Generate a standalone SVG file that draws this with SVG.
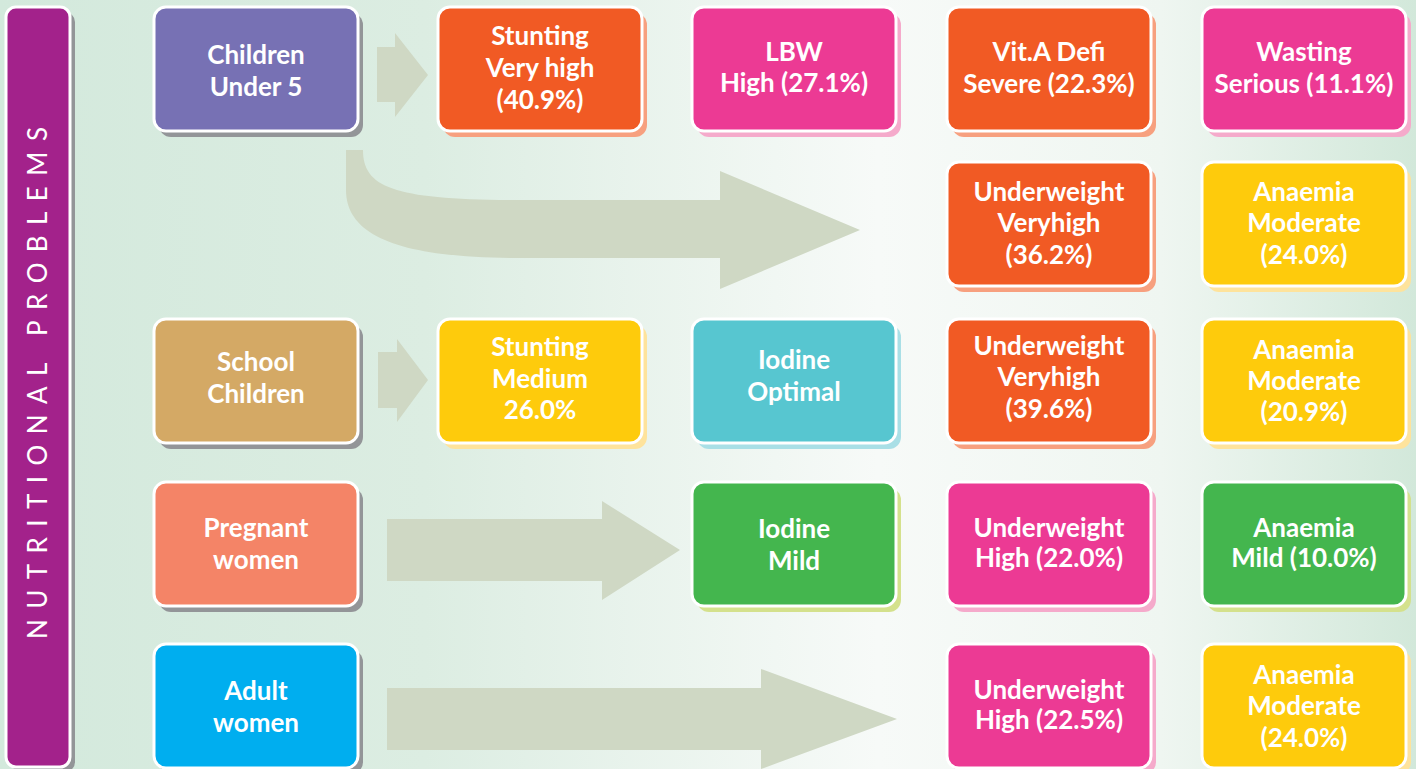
<svg xmlns="http://www.w3.org/2000/svg" width="1416" height="769" viewBox="0 0 1416 769">
<defs>
<linearGradient id="bg" x1="0" y1="0" x2="1" y2="0">
<stop offset="0" stop-color="#d3e9dc"/>
<stop offset="0.3" stop-color="#dcede2"/>
<stop offset="0.62" stop-color="#f7faf8"/>
<stop offset="0.82" stop-color="#eff6f1"/>
<stop offset="1" stop-color="#d2e8da"/>
</linearGradient>
<style>
.box{stroke:#ffffff;stroke-width:3}
.t{font-family:Lato,"Open Sans","DejaVu Sans",sans-serif;font-weight:700;font-size:26px;fill:#ffffff;text-anchor:middle}
.arr{fill:#cfd8c4}
.sg{fill:#939598}
</style>
</defs>
<rect x="0" y="0" width="1416" height="769" fill="url(#bg)"/>

<g id="title-bar">
<rect class="sg" x="11" y="12" width="64" height="760" rx="10"/>
<rect class="box" x="6" y="7" width="64" height="760" rx="10" fill="#a3228b"/>
<text transform="translate(47,383) rotate(-90)" x="0" y="0" text-anchor="middle" textLength="512" lengthAdjust="spacing" style="font-family:Lato,'Open Sans',sans-serif;font-size:26px;fill:#ffffff">NUTRITIONAL PROBLEMS</text>
</g>

<g id="connectors">
<path class="arr" d="M377,47 L395,47 L395,33 L428,75 L395,117 L395,102 L377,102 Z"/>
<path class="arr" d="M346,150 L346,190 C346,240 410,258 520,258 L720,258 L720,289 L860,230 L720,171 L720,200 L520,200 C395,200 363,188 363,150 Z"/>
<path class="arr" d="M378,352 L397,352 L397,339 L428,380 L397,422 L397,408 L378,408 Z"/>
<path class="arr" d="M387,519 L602,519 L602,501 L680,550 L602,600 L602,581 L387,581 Z"/>
<path class="arr" d="M387,688 L761,688 L761,669 L897,719 L761,769 L761,750 L387,750 Z"/>
</g>

<g id="children-under-5">
<rect class="sg" x="159" y="13" width="204" height="124" rx="12"/>
<rect class="box" x="154" y="7" width="204" height="124" rx="12" fill="#7771b4"/>
<text class="t" x="256" y="64">Children</text>
<text class="t" x="256" y="96">Under 5</text>
</g>

<g id="stunting-very-high">
<rect x="443" y="13" width="204" height="124" rx="12" fill="#f7a07f"/>
<rect class="box" x="438" y="7" width="204" height="124" rx="12" fill="#f15a24"/>
<text class="t" x="540" y="45">Stunting</text>
<text class="t" x="540" y="77">Very high</text>
<text class="t" x="540" y="109">(40.9%)</text>
</g>

<g id="lbw-high">
<rect x="697" y="13" width="204" height="124" rx="12" fill="#f5aacb"/>
<rect class="box" x="692" y="7" width="204" height="124" rx="12" fill="#ec3a94"/>
<text class="t" x="794" y="61">LBW</text>
<text class="t" x="794" y="92">High (27.1%)</text>
</g>

<g id="vita-defi-severe">
<rect x="952" y="13" width="204" height="124" rx="12" fill="#f7a07f"/>
<rect class="box" x="947" y="7" width="204" height="124" rx="12" fill="#f15a24"/>
<text class="t" x="1049" y="61">Vit.A Defi</text>
<text class="t" x="1049" y="93">Severe (22.3%)</text>
</g>

<g id="wasting-serious">
<rect x="1207" y="13" width="204" height="124" rx="12" fill="#f5aacb"/>
<rect class="box" x="1202" y="7" width="204" height="124" rx="12" fill="#ec3a94"/>
<text class="t" x="1304" y="61">Wasting</text>
<text class="t" x="1304" y="93">Serious (11.1%)</text>
</g>

<g id="underweight-veryhigh-u5">
<rect x="952" y="168" width="204" height="124" rx="12" fill="#f7a07f"/>
<rect class="box" x="947" y="162" width="204" height="124" rx="12" fill="#f15a24"/>
<text class="t" x="1049" y="201">Underweight</text>
<text class="t" x="1049" y="232">Veryhigh</text>
<text class="t" x="1049" y="264">(36.2%)</text>
</g>

<g id="anaemia-moderate-u5">
<rect x="1207" y="168" width="204" height="124" rx="12" fill="#fee39c"/>
<rect class="box" x="1202" y="162" width="204" height="124" rx="12" fill="#fecb0c"/>
<text class="t" x="1304" y="201">Anaemia</text>
<text class="t" x="1304" y="232">Moderate</text>
<text class="t" x="1304" y="264">(24.0%)</text>
</g>

<g id="school-children">
<rect class="sg" x="159" y="325" width="204" height="124" rx="12"/>
<rect class="box" x="154" y="319" width="204" height="124" rx="12" fill="#d4a965"/>
<text class="t" x="256" y="371">School</text>
<text class="t" x="256" y="403">Children</text>
</g>

<g id="stunting-medium">
<rect x="443" y="325" width="204" height="124" rx="12" fill="#fee39c"/>
<rect class="box" x="438" y="319" width="204" height="124" rx="12" fill="#fecb0c"/>
<text class="t" x="540" y="356">Stunting</text>
<text class="t" x="540" y="388">Medium</text>
<text class="t" x="540" y="419">26.0%</text>
</g>

<g id="iodine-optimal">
<rect x="697" y="325" width="204" height="124" rx="12" fill="#a9dfe6"/>
<rect class="box" x="692" y="319" width="204" height="124" rx="12" fill="#57c6d0"/>
<text class="t" x="794" y="369">Iodine</text>
<text class="t" x="794" y="401">Optimal</text>
</g>

<g id="underweight-veryhigh-school">
<rect x="952" y="325" width="204" height="124" rx="12" fill="#f7a07f"/>
<rect class="box" x="947" y="319" width="204" height="124" rx="12" fill="#f15a24"/>
<text class="t" x="1049" y="355">Underweight</text>
<text class="t" x="1049" y="386">Veryhigh</text>
<text class="t" x="1049" y="418">(39.6%)</text>
</g>

<g id="anaemia-moderate-school">
<rect x="1207" y="325" width="204" height="124" rx="12" fill="#fee39c"/>
<rect class="box" x="1202" y="319" width="204" height="124" rx="12" fill="#fecb0c"/>
<text class="t" x="1304" y="359">Anaemia</text>
<text class="t" x="1304" y="390">Moderate</text>
<text class="t" x="1304" y="421">(20.9%)</text>
</g>

<g id="pregnant-women">
<rect class="sg" x="159" y="488" width="204" height="124" rx="12"/>
<rect class="box" x="154" y="482" width="204" height="124" rx="12" fill="#f48467"/>
<text class="t" x="256" y="537">Pregnant</text>
<text class="t" x="256" y="569">women</text>
</g>

<g id="iodine-mild">
<rect x="697" y="488" width="204" height="124" rx="12" fill="#d4e18c"/>
<rect class="box" x="692" y="482" width="204" height="124" rx="12" fill="#44b64e"/>
<text class="t" x="794" y="538">Iodine</text>
<text class="t" x="794" y="570">Mild</text>
</g>

<g id="underweight-high-pregnant">
<rect x="952" y="488" width="204" height="124" rx="12" fill="#f5aacb"/>
<rect class="box" x="947" y="482" width="204" height="124" rx="12" fill="#ec3a94"/>
<text class="t" x="1049" y="537">Underweight</text>
<text class="t" x="1049" y="567">High (22.0%)</text>
</g>

<g id="anaemia-mild">
<rect x="1207" y="488" width="204" height="124" rx="12" fill="#d4e18c"/>
<rect class="box" x="1202" y="482" width="204" height="124" rx="12" fill="#44b64e"/>
<text class="t" x="1304" y="537">Anaemia</text>
<text class="t" x="1304" y="567">Mild (10.0%)</text>
</g>

<g id="adult-women">
<rect class="sg" x="159" y="650" width="204" height="124" rx="12"/>
<rect class="box" x="154" y="644" width="204" height="124" rx="12" fill="#00aeef"/>
<text class="t" x="256" y="700">Adult</text>
<text class="t" x="256" y="732">women</text>
</g>

<g id="underweight-high-adult">
<rect x="952" y="650" width="204" height="124" rx="12" fill="#f5aacb"/>
<rect class="box" x="947" y="644" width="204" height="124" rx="12" fill="#ec3a94"/>
<text class="t" x="1049" y="699">Underweight</text>
<text class="t" x="1049" y="729">High (22.5%)</text>
</g>

<g id="anaemia-moderate-adult">
<rect x="1207" y="650" width="204" height="124" rx="12" fill="#fee39c"/>
<rect class="box" x="1202" y="644" width="204" height="124" rx="12" fill="#fecb0c"/>
<text class="t" x="1304" y="684">Anaemia</text>
<text class="t" x="1304" y="715">Moderate</text>
<text class="t" x="1304" y="747">(24.0%)</text>
</g>
</svg>
